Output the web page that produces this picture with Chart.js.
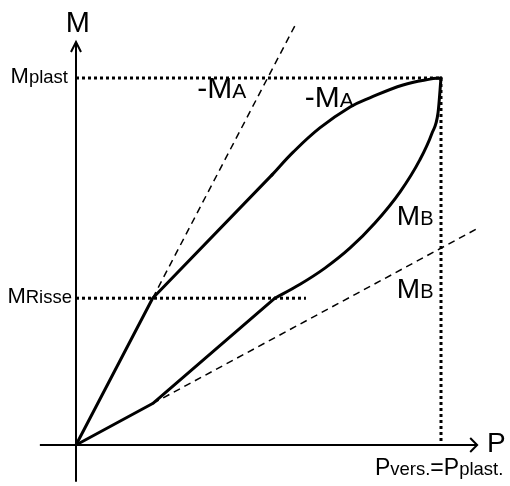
<!DOCTYPE html>
<html>
<head>
<meta charset="utf-8">
<title>M-P</title>
<script src="https://cdn.jsdelivr.net/npm/chart.js@4/dist/chart.umd.min.js"></script>
<style>
  html, body { margin: 0; padding: 0; background: #fff; }
  #wrap { width: 510px; height: 486px; }
</style>
</head>
<body>
<div id="wrap"><canvas id="chart" width="510" height="486"></canvas></div>
<script>
// P and M in percent of the plastic values
const P_PLAST = 100;
const M_PLAST = 100;
const M_RISSE = 40;

// -M_A branch: straight part up to cracking, then curved
const branchA_P = [0, 21, 53.7];
const branchA_M = [0, 40, 73.6];
const branchA_curveP = [53.7, 59.5, 66.8, 75.1, 80.5, 89.6, 97.0, 100];
const branchA_curveM = [73.6, 79.8, 86.4, 92.1, 94.6, 98.1, 99.7, 100];

// M_B branch
const branchB_P = [0, 21, 54.5];
const branchB_M = [0, 11.3, 40];
const branchB_curveP = [54.5, 61.4, 68.2, 75.1, 81.9, 88.8, 94.2, 97.5, 99.2, 100];
const branchB_curveM = [40, 43.8, 48.2, 53.7, 60.5, 69.0, 77.7, 84.9, 90.6, 100];

// uncracked stiffness lines (dashed)
const tangentA_P = [21, 60];
const tangentA_M = [40, 114.3];
const tangentB_P = [21, 110];
const tangentB_M = [11.3, 59];

// axis extents
const axisP = [-9.9, 109.9];
const axisM = [-10, 109.8];

const FONT = '"Liberation Sans", Arial, sans-serif';

function pts(xs, ys) {
  return xs.map((x, i) => ({ x: x, y: ys[i] }));
}

function line(data, opts) {
  return Object.assign({
    data: data,
    showLine: true,
    borderColor: '#000',
    borderWidth: 3,
    pointRadius: 0,
    pointHoverRadius: 0,
    tension: 0,
    fill: false,
    borderCapStyle: 'round',
    borderJoinStyle: 'round'
  }, opts || {});
}

const solid2 = { borderWidth: 2, borderCapStyle: 'butt', borderJoinStyle: 'miter' };
const dotted = { borderWidth: 3, borderDash: [3, 3], borderCapStyle: 'butt' };
const dashed = { borderWidth: 1.5, borderDash: [7, 5], borderCapStyle: 'butt' };

const datasets = [
  // axes with arrow heads
  line(pts(axisP, [0, 0]), solid2),
  line(pts([0, 0], axisM), solid2),
  line(pts([108, axisP[1], 108], [1.9, 0, -1.9]), solid2),
  line(pts([-1.37, 0, 1.37], [107.1, axisM[1], 107.1]), solid2),
  // helper lines
  line(pts([0, P_PLAST], [M_PLAST, M_PLAST]), dotted),
  line(pts([P_PLAST, P_PLAST], [M_PLAST, 0]), dotted),
  line(pts([0, 63], [M_RISSE, M_RISSE]), dotted),
  line(pts(tangentA_P, tangentA_M), dashed),
  line(pts(tangentB_P, tangentB_M), dashed),
  // moment curves
  line(pts(branchA_P, branchA_M)),
  line(pts(branchA_curveP, branchA_curveM), { tension: 0.4 }),
  line(pts(branchB_P, branchB_M)),
  line(pts(branchB_curveP, branchB_curveM), { cubicInterpolationMode: 'monotone' })
];

// text labels, each made of [text, font size] runs on one baseline
const textLabels = [
  { runs: [['M', 29]], x: 0.5, y: 115.3, align: 'center', middle: true },
  { runs: [['P', 28]], x: 112.6, y: -1.9, align: 'left' },
  { runs: [['M', 22], ['plast', 18.5]], x: -2.2, y: 98.6, align: 'right' },
  { runs: [['M', 22], ['Risse', 18.5]], x: -1.1, y: 38.7, align: 'right' },
  { runs: [['-M', 30], ['A', 21]], x: 33.2, y: 94.6, align: 'left' },
  { runs: [['-M', 30], ['A', 21]], x: 62.7, y: 92.2, align: 'left' },
  { runs: [['M', 28], ['B', 20]], x: 87.9, y: 59.9, align: 'left' },
  { runs: [['M', 28], ['B', 20]], x: 87.9, y: 40, align: 'left' },
  { runs: [['P', 23], ['vers.', 18.5], ['=', 23], ['P', 23], ['plast.', 18.5]], x: 81.9, y: -8.2, align: 'left' }
];

const labelPlugin = {
  id: 'textLabels',
  afterDatasetsDraw(chart) {
    const ctx = chart.ctx;
    const xs = chart.scales.x;
    const ys = chart.scales.y;
    ctx.save();
    ctx.fillStyle = '#000';
    ctx.textBaseline = 'alphabetic';
    ctx.textAlign = 'left';
    textLabels.forEach(lb => {
      let width = 0;
      lb.runs.forEach(r => {
        ctx.font = r[1] + 'px ' + FONT;
        width += ctx.measureText(r[0]).width;
      });
      let px = xs.getPixelForValue(lb.x);
      let py = ys.getPixelForValue(lb.y);
      if (lb.align === 'right') px -= width;
      if (lb.align === 'center') px -= width / 2;
      if (lb.middle) py += lb.runs[0][1] * 0.36;
      lb.runs.forEach(r => {
        ctx.font = r[1] + 'px ' + FONT;
        ctx.fillText(r[0], px, py);
        px += ctx.measureText(r[0]).width;
      });
    });
    ctx.restore();
  }
};

new Chart(document.getElementById('chart').getContext('2d'), {
  type: 'scatter',
  data: { datasets: datasets },
  options: {
    responsive: false,
    animation: false,
    layout: { padding: 0 },
    plugins: { legend: { display: false }, tooltip: { enabled: false } },
    scales: {
      x: { type: 'linear', display: false, min: -76 / 3.65, max: (510 - 76) / 3.65 },
      y: { type: 'linear', display: false, min: -(486 - 445) / 3.67, max: 445 / 3.67 }
    }
  },
  plugins: [labelPlugin]
});
</script>
</body>
</html>
